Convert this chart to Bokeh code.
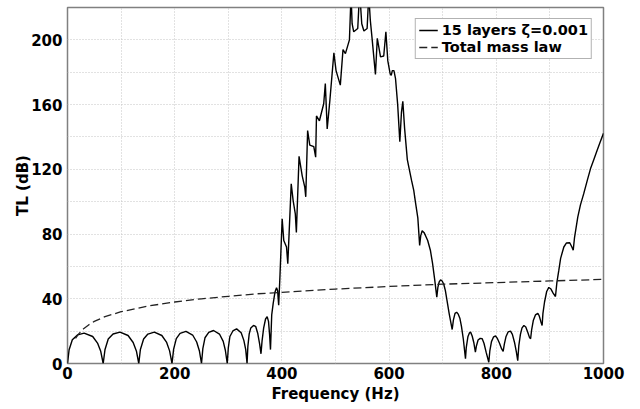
from bokeh.plotting import figure
from bokeh.models import FixedTicker, SingleIntervalTicker, Range1d
from bokeh.embed import file_html
from bokeh.resources import INLINE

# ---- data ----
freq_15 = [0, 3, 9, 19, 31, 47, 56, 62, 66.6,
           70, 76, 85, 98, 113, 122.5, 128.5, 133,
           136, 142, 150, 162, 176, 185, 190.5, 195,
           198, 203, 210, 221, 233.5, 241, 246, 250,
           252.5, 256.5, 263.5, 272.5, 283.5, 290.5, 294.5, 298,
           300, 303, 308.5, 315.5, 324, 329, 332.5, 335,
           336.5, 339, 342, 347, 351, 355, 358.5, 361,
           363, 366, 369.5, 372.5, 375, 377, 378.7,
           381, 383.7, 387, 390, 392, 394, 396.5, 400.5, 403.5, 408.6, 411,
           417.4, 421, 425, 427, 432, 437.9, 442.7, 444.5,
           448, 452, 459.5, 463, 464.5, 470, 478, 481, 484.5, 489.5,
           497, 501, 509, 514, 518.5, 526, 529, 531, 534, 541.5,
           545, 549, 553, 559, 562, 565, 568.5, 574.5, 578, 584, 590,
           594, 597.6, 602, 604, 606, 609, 612, 616, 620, 623, 625.6,
           629, 634, 637, 642, 646, 649, 653.6, 657, 659, 661.7, 665,
           668, 672, 677, 681, 685, 689, 691, 693.5, 696, 699, 702,
           705, 708, 712, 717.7, 720, 723, 726, 729, 732, 735, 738.5,
           742.5, 744, 747, 750, 752, 755, 758, 761, 763, 766, 770,
           773.7, 777, 781, 786, 788, 791, 795, 798.5, 802, 806, 810,
           812.8, 815, 818, 822, 826.5, 830, 834, 837.5, 840, 842, 845,
           848, 851.5, 855, 859, 862, 864, 866, 869, 873, 877.5, 880,
           883, 885.5, 887, 890, 894, 898, 902, 906, 910.4, 913, 916.6,
           920, 926, 931, 937, 941, 943.5, 946, 952, 957, 963, 970,
           975.7, 982, 988, 994, 1000]
tl_15 = [0, 8.5, 14.7, 17.7, 18.8, 16.7, 12.6, 7.5, 0,
         8.7, 15.1, 18.2, 19.4, 17.3, 13, 7.8, 0,
         8.7, 15.1, 18.2, 19.4, 17.3, 13, 7.8, 0,
         8.9, 15.4, 18.6, 19.8, 17.6, 13.3, 7.9, 0,
         9.2, 15.9, 19.2, 20.4, 18.2, 13.7, 8.2, 0,
         9.6, 16.7, 20.1, 21.4, 19, 14.3, 8.6, 0,
         10.6, 18.3, 22, 23.5, 23, 18.5, 12, 6,
         14, 22, 27.5, 29, 26, 18, 8.6,
         30, 37, 44, 46.8, 45, 36, 55, 89.4, 76, 72, 61.6,
         111, 100.7, 92.5, 81, 128, 116, 109, 103,
         144, 135, 134, 127.5, 153, 150, 160.5, 173, 145, 162.5,
         192, 181, 172, 194, 191.5, 200, 228, 210, 205, 207,
         230, 210, 205.5, 207, 228, 212, 200, 178.6, 201, 189.5, 190,
         205, 187, 179, 178, 181, 181, 176, 160, 137, 155, 162,
         145, 126, 121, 113, 107, 100, 90, 73, 79, 82, 81,
         79, 76, 70, 62, 52, 41, 47, 50.5, 51.7, 51, 49,
         45, 39, 31, 21, 27, 31, 31.7, 30.5, 28, 23, 15,
         3, 10, 16.5, 19, 19.4, 17, 13, 7, 11, 14.5, 15.5,
         15.3, 12.5, 7, 0.8, 8, 13.5, 16.5, 17, 15.5, 12.5, 9,
         7.5, 12, 16.5, 19.5, 20, 18, 13, 7, 1.8, 11, 18,
         22, 23.5, 22.5, 19, 16, 15.3, 21, 26.5, 30, 31, 29.5,
         26, 23.5, 31, 38, 44.5, 47, 46, 43.5, 41.4, 50, 57.5,
         65, 72, 74.5, 74.6, 72, 70, 78, 90.4, 98, 104.8, 113.5,
         120.3, 126, 131.6, 137, 142.3]

freq_mass = [15, 20, 30, 40, 50, 70, 100, 150, 200, 250, 300, 350, 400,
             500, 600, 700, 800, 900, 1000]
tl_mass = [15.5, 18, 21.5, 24, 26, 29, 32, 35.5, 38, 40, 41.5, 43, 44,
           46, 47.6, 49, 50, 51, 52]

x_ticks = [0, 200, 400, 600, 800, 1000]
y_ticks = [0, 40, 80, 120, 160, 200]

FONT = "DejaVu Sans"

p = figure(width=628, height=405, output_backend="svg", toolbar_location=None,
           x_range=Range1d(0, 1000), y_range=Range1d(0, 220),
           min_border_left=67, min_border_right=25, min_border_top=7,
           min_border_bottom=42)

p.line(freq_15, tl_15, line_color="black", line_width=1.4,
       legend_label="15 layers \u03b6=0.001")
p.line(freq_mass, tl_mass, line_color="#222222", line_width=1.3,
       line_dash="8 4", legend_label="Total mass law")

p.xaxis.ticker = FixedTicker(ticks=x_ticks)
p.yaxis.ticker = FixedTicker(ticks=y_ticks)
p.xgrid.ticker = SingleIntervalTicker(interval=100)
p.ygrid.ticker = SingleIntervalTicker(interval=20)
for g in (p.xgrid, p.ygrid):
    g.grid_line_color = "#c4c4c4"
    g.grid_line_dash = "1 2"
    g.grid_line_width = 1

p.xaxis.axis_label = "Frequency (Hz)"
p.yaxis.axis_label = "TL (dB)"
for ax in (p.xaxis, p.yaxis):
    ax.axis_line_color = None
    ax.major_tick_line_color = None
    ax.minor_tick_line_color = None
    ax.major_tick_in = 0
    ax.major_tick_out = 0
    ax.major_label_text_font = FONT
    ax.major_label_text_font_style = "bold"
    ax.major_label_text_font_size = "15px"
    ax.major_label_text_color = "black"
    ax.axis_label_text_font = FONT
    ax.axis_label_text_font_style = "bold"
    ax.axis_label_text_font_size = "15px"
    ax.axis_label_text_color = "black"
p.xaxis.major_label_standoff = 3
p.xaxis.axis_label_standoff = 3
p.yaxis.major_label_standoff = 5
p.yaxis.axis_label_standoff = -4

p.outline_line_color = "#808080"
p.outline_line_width = 1.5

lg = p.legend[0]
lg.location = "top_right"
lg.margin = 11
lg.padding = 3
lg.spacing = 1
lg.label_standoff = 4
lg.glyph_width = 19
lg.glyph_height = 14
lg.label_height = 14
lg.label_text_font = FONT
lg.label_text_font_style = "bold"
lg.label_text_font_size = "14.5px"
lg.label_text_color = "black"
lg.border_line_color = "#666666"
lg.border_line_width = 1
lg.background_fill_alpha = 1.0

open("out.html", "w").write(file_html(p, INLINE))
